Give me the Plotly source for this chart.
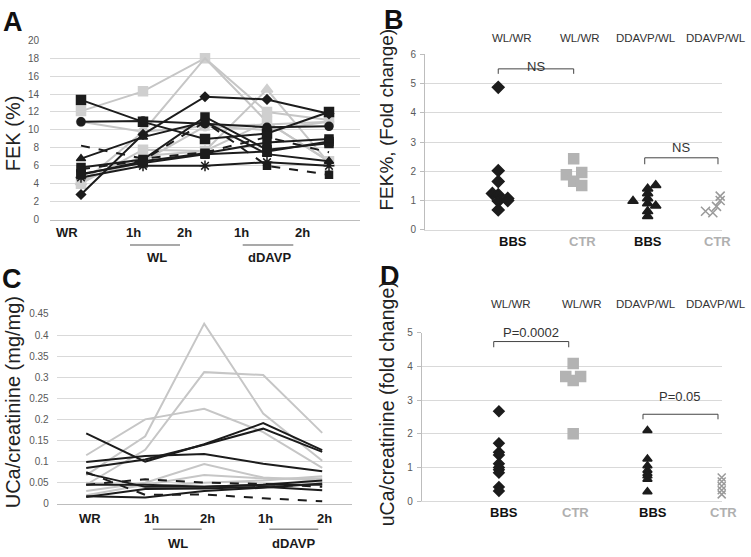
import plotly.graph_objects as go

W, H = 751, 557
FONT = "Arial, Liberation Sans, sans-serif"
BLACK = "#1c1c1c"
GREY = "#c6c6c6"
GREY_MK = "#cfcfcf"
GRID = "#d9d9d9"

# ---------------- data ----------------
time_labels = ["WR", "1h", "2h", "1h", "2h"]
time_idx = [0, 1, 2, 3, 4]

# Panel A: FEK (%) per subject
A_black_sq1 = [13.35, 10.9, 9.0, 9.6, 12.0]
A_black_dia = [2.8, 9.5, 13.7, 13.4, 11.8]
A_black_circ = [10.9, 11.0, 10.7, 10.3, 10.4]
A_black_tri = [6.8, 9.2, 10.9, 7.3, 6.5]
A_black_sq2 = [5.8, 6.7, 11.45, 7.8, 8.5]
A_black_dash1 = [8.25, 6.8, 7.5, 9.2, 7.5]
A_black_dash_sq = [5.6, 6.6, 10.9, 6.0, 5.0]
A_black_ast = [4.7, 6.0, 6.0, 6.4, 6.0]
A_black_sq3 = [5.1, 6.3, 7.3, 7.6, 8.7]
A_black_sq4 = [5.0, 6.5, 7.4, 8.6, 9.0]
A_grey_sq1 = [12.1, 14.3, 18.0, 12.0, 11.1]
A_grey_plain = [4.0, 9.8, 18.0, 10.9, 6.5]
A_grey_circ = [10.9, 9.8, 10.4, 10.6, 10.9]
A_grey_tri = [4.2, 7.1, 7.65, 14.5, 6.3]
A_grey_sq2 = [4.0, 7.8, 7.65, 10.9, 6.5]
A_grey_x = [4.5, 6.5, 10.4, 10.0, 10.9]

# Panel C: UCa/creatinine (mg/mg)
C_grey1 = [0.068, 0.16, 0.427, 0.214, 0.102]
C_grey2 = [0.045, 0.128, 0.312, 0.305, 0.168]
C_grey3 = [0.115, 0.20, 0.225, 0.17, 0.085]
C_grey4 = [0.03, 0.05, 0.094, 0.062, 0.055]
C_grey5 = [0.02, 0.045, 0.068, 0.06, 0.06]
C_grey6 = [0.05, 0.04, 0.05, 0.055, 0.065]
C_black1 = [0.167, 0.10, 0.141, 0.191, 0.127]
C_black2 = [0.085, 0.105, 0.14, 0.178, 0.123]
C_black3 = [0.099, 0.113, 0.118, 0.095, 0.077]
C_black_dash1 = [0.075, 0.021, 0.022, 0.013, 0.006]
C_black_dash2 = [0.045, 0.058, 0.05, 0.047, 0.04]
C_black4 = [0.018, 0.015, 0.03, 0.038, 0.048]
C_black5 = [0.016, 0.035, 0.036, 0.04, 0.032]
C_black6 = [0.045, 0.045, 0.04, 0.045, 0.045]
C_black7 = [0.072, 0.04, 0.04, 0.045, 0.055]

# Panel B: FEK% fold change
B_bbs_wl_x = [1, 1, 1, 0.92, 1, 1, 1.13, 1.13, 1]
B_bbs_wl_y = [4.87, 2.02, 1.65, 1.24, 1.2, 0.98, 1.07, 1.0, 0.68]
B_ctr_wl_x = [2.03, 1.93, 2.14, 2.03, 2.14]
B_ctr_wl_y = [2.43, 1.88, 1.96, 1.66, 1.51]
B_bbs_dd_x = [2.84, 3.04, 3.15, 3.04, 3.04, 3.04, 3.15, 3.04, 3.04]
B_bbs_dd_y = [0.98, 1.40, 1.52, 1.24, 1.07, 0.90, 0.82, 0.63, 0.46]
B_ctr_dd_x = [3.83, 3.93, 3.98, 4.03, 4.03]
B_ctr_dd_y = [0.63, 0.58, 0.80, 1.0, 1.15]

# Panel D: uCa/creatinine fold change
D_bbs_wl_x = [1] * 10
D_bbs_wl_y = [2.67, 1.72, 1.45, 1.37, 1.11, 1.0, 0.93, 0.84, 0.42, 0.30]
D_ctr_wl_x = [2.0, 1.9, 2.1, 2.0, 2.0]
D_ctr_wl_y = [4.09, 3.70, 3.70, 3.58, 2.0]
D_bbs_dd_x = [3] * 8
D_bbs_dd_y = [2.1, 1.25, 1.05, 0.92, 0.82, 0.75, 0.65, 0.28]
D_ctr_dd_x = [4] * 5
D_ctr_dd_y = [0.70, 0.58, 0.45, 0.32, 0.20]

ratio_headers = ["WL/WR", "WL/WR", "DDAVP/WL", "DDAVP/WL"]
group_labels = ["BBS", "CTR", "BBS", "CTR"]
B_brackets = [(1.0, 2.03, 5.5, 5.33, "NS", 5.9), (3.0, 4.0, 2.46, 2.24, "NS", 2.8)]
D_brackets = [(0.93, 1.94, 4.74, 4.57, "P=0.0002", 5.3), (2.94, 3.95, 2.58, 2.43, "P=0.05", 3.1)]
B_yrange = [0, 6]
D_yrange = [0, 5]


def px(x):
    return x / W


def py(y):
    return 1 - y / H


fig = go.Figure()

# ---------------- Panel A ----------------
A_series = [
    (A_grey_sq1, GREY, "solid", "square", 9),
    (A_grey_plain, GREY, "solid", "circle", 0),
    (A_grey_circ, GREY, "solid", "circle", 9),
    (A_grey_tri, GREY, "solid", "triangle-up", 10),
    (A_grey_sq2, GREY, "solid", "square", 9),
    (A_grey_x, GREY, "solid", "x-thin-open", 9),
    (A_black_sq1, BLACK, "solid", "square", 9),
    (A_black_dia, BLACK, "solid", "diamond", 7),
    (A_black_circ, BLACK, "solid", "circle", 8),
    (A_black_tri, BLACK, "solid", "triangle-up", 8),
    (A_black_sq2, BLACK, "solid", "square", 8),
    (A_black_dash1, BLACK, "dash", "circle", 0),
    (A_black_dash_sq, BLACK, "dash", "square", 7),
    (A_black_ast, BLACK, "solid", "asterisk-open", 9),
    (A_black_sq3, BLACK, "solid", "square", 8),
    (A_black_sq4, BLACK, "solid", "square", 8),
]
for ys, col, dash, sym, size in A_series:
    mk = dict(symbol=sym, size=size, color=col if col == BLACK else GREY_MK,
              line=dict(color=col if col == BLACK else GREY_MK, width=1.5))
    fig.add_trace(go.Scatter(x=time_idx, y=ys, mode="lines+markers" if size else "lines",
                             line=dict(color=col, width=2, dash=dash), marker=mk,
                             xaxis="x", yaxis="y", showlegend=False, cliponaxis=False))

# ---------------- Panel C ----------------
C_series = [
    (C_grey1, GREY, "solid"), (C_grey2, GREY, "solid"), (C_grey3, GREY, "solid"),
    (C_grey4, GREY, "solid"), (C_grey5, GREY, "solid"), (C_grey6, GREY, "solid"),
    (C_black1, BLACK, "solid"), (C_black2, BLACK, "solid"), (C_black3, BLACK, "solid"),
    (C_black_dash1, BLACK, "dash"), (C_black_dash2, BLACK, "dash"),
    (C_black4, BLACK, "solid"), (C_black5, BLACK, "solid"),
    (C_black6, BLACK, "solid"), (C_black7, BLACK, "solid"),
]
for ys, col, dash in C_series:
    fig.add_trace(go.Scatter(x=time_idx, y=ys, mode="lines",
                             line=dict(color=col, width=2, dash=dash),
                             xaxis="x3", yaxis="y3", showlegend=False))

# ---------------- Panel B ----------------
B_groups = [
    (B_bbs_wl_x, B_bbs_wl_y, "diamond", 9, BLACK),
    (B_ctr_wl_x, B_ctr_wl_y, "square", 10, "#b3b3b3"),
    (B_bbs_dd_x, B_bbs_dd_y, "triangle-up", 9, BLACK),
    (B_ctr_dd_x, B_ctr_dd_y, "x-thin-open", 9, "#9a9a9a"),
]
for xs, ys, sym, size, col in B_groups:
    fig.add_trace(go.Scatter(x=xs, y=ys, mode="markers",
                             marker=dict(symbol=sym, size=size, color=col,
                                         line=dict(color=col, width=1.5)),
                             xaxis="x2", yaxis="y2", showlegend=False, cliponaxis=False))

# ---------------- Panel D ----------------
D_groups = [
    (D_bbs_wl_x, D_bbs_wl_y, "diamond", 8, BLACK),
    (D_ctr_wl_x, D_ctr_wl_y, "square", 10, "#b3b3b3"),
    (D_bbs_dd_x, D_bbs_dd_y, "triangle-up", 8, BLACK),
    (D_ctr_dd_x, D_ctr_dd_y, "x-thin-open", 8, "#9a9a9a"),
]
for xs, ys, sym, size, col in D_groups:
    fig.add_trace(go.Scatter(x=xs, y=ys, mode="markers",
                             marker=dict(symbol=sym, size=size, color=col,
                                         line=dict(color=col, width=1.5)),
                             xaxis="x4", yaxis="y4", showlegend=False, cliponaxis=False))

tickfont = dict(family=FONT, size=10, color="#595959")
hidden_x = dict(showgrid=False, zeroline=False, showticklabels=False, ticks="", fixedrange=True)

fig.update_layout(
    width=W, height=H, margin=dict(l=0, r=0, t=0, b=0),
    paper_bgcolor="white", plot_bgcolor="white",
    font=dict(family=FONT),
    xaxis=dict(domain=[px(50), px(360)], range=[-0.5, 4.5], anchor="y",
               showline=True, linecolor="#bdbdbd", **hidden_x),
    yaxis=dict(domain=[py(218.3), py(35)], range=[0, 20], dtick=2, anchor="x",
               gridcolor=GRID, zeroline=False, tickfont=tickfont, ticks="",
               ticklabelstandoff=10),
    xaxis3=dict(domain=[px(56.7), px(351.7)], range=[-0.5, 4.5], anchor="y3",
                showline=True, linecolor="#bdbdbd", **hidden_x),
    yaxis3=dict(domain=[py(508.7), py(314.7)], range=[0, 0.45], dtick=0.05, anchor="x3",
                gridcolor=GRID, zeroline=False, tickfont=tickfont, ticks="",
                tickformat="~g", ticklabelstandoff=7),
    xaxis2=dict(domain=[px(425), px(722)], range=[0, 4.055], anchor="y2",
                showline=True, linecolor=GRID, **hidden_x),
    yaxis2=dict(domain=[py(228.7), py(49.3)], range=B_yrange, dtick=1, anchor="x2",
                gridcolor=GRID, zeroline=False, tickfont=tickfont, ticks="outside",
                ticklen=4, tickcolor="#bdbdbd", showline=True, linecolor="#bdbdbd",
                ticklabelstandoff=2),
    xaxis4=dict(domain=[px(421.7), px(721.7)], range=[-0.04, 4.0], anchor="y4",
                showline=True, linecolor=GRID, **hidden_x),
    yaxis4=dict(domain=[py(506), py(334)], range=D_yrange, dtick=1, anchor="x4",
                gridcolor=GRID, zeroline=False, tickfont=tickfont, ticks="outside",
                ticklen=4, tickcolor="#bdbdbd", showline=True, linecolor="#bdbdbd",
                ticklabelstandoff=2),
)

ann = []
shapes = []


def text(x, y, s, size, color="#222", bold=False, angle=0, xanchor="center"):
    ann.append(dict(x=px(x), y=py(y), xref="paper", yref="paper", text=f"<b>{s}</b>" if bold else s,
                    showarrow=False, textangle=angle, xanchor=xanchor, yanchor="middle",
                    font=dict(family=FONT, size=size, color=color)))


def hline(x0, x1, y, color="#8c8c8c", width=1.5):
    shapes.append(dict(type="line", xref="paper", yref="paper", x0=px(x0), x1=px(x1),
                       y0=py(y), y1=py(y), line=dict(color=color, width=width)))


# panel letters
for letter, (lx, ly) in zip("ABCD", [(13, 16), (394, 14), (12, 279), (390, 276)]):
    text(lx, ly, letter, 27, color="#111", bold=True)

# axis titles
text(13, 130, "FEK (%)", 20, color="#222", angle=-90)
text(13, 405, "UCa/creatinine (mg/mg)", 20, color="#222", angle=-90)
text(387, 116, "FEK%, (Fold change)", 19, color="#222", angle=-90)
text(387, 406, "uCa/creatinine (fold change)", 19.5, color="#222", angle=-90)

# Panel A category labels (offset like the original)
A_label_px = [67, 133, 184, 241, 302]
for lab, xx in zip(time_labels, A_label_px):
    text(xx, 231, lab, 13, color="#1a1a1a", bold=True)
hline(130, 180, 244.3)
hline(242.7, 293.3, 244.3)
text(156.7, 257, "WL", 13, color="#1a1a1a", bold=True)
text(269.3, 257, "dDAVP", 13, color="#1a1a1a", bold=True)

# Panel C category labels
C_label_px = [90, 151.7, 207.3, 265, 324]
for lab, xx in zip(time_labels, C_label_px):
    text(xx, 524, lab, 13, color="#1a1a1a", bold=True)
hline(152.7, 201.7, 534.7)
hline(269.3, 318.3, 534.7)
text(178.3, 549, "WL", 13, color="#1a1a1a", bold=True)
text(293.3, 549, "dDAVP", 13, color="#1a1a1a", bold=True)

# Panel B / D headers and group labels
B_head_px = [512, 580, 646, 716]
D_head_px = [511, 582, 646, 716]
B_grp_px = [513, 582, 648, 717]
D_grp_px = [504, 575, 653, 723]
grp_colors = ["#111", "#b0b0b0", "#111", "#b0b0b0"]
for i in range(4):
    text(B_head_px[i], 33, ratio_headers[i], 11.5, color="#333")
    text(D_head_px[i], 305, ratio_headers[i], 11.5, color="#333")
    text(B_grp_px[i], 241, group_labels[i], 13, color=grp_colors[i], bold=True)
    text(D_grp_px[i], 518, group_labels[i], 13, color=grp_colors[i], bold=True)

# significance brackets
for xa, ya, yr, brs in [("x2", "y2", B_yrange, B_brackets), ("x4", "y4", D_yrange, D_brackets)]:
    for x0, x1, ytop, ybot, lab, ylab in brs:
        shapes.append(dict(type="path", xref=xa, yref=ya,
                           path=f"M {x0},{ybot} L {x0},{ytop} L {x1},{ytop} L {x1},{ybot}",
                           line=dict(color="#444", width=1)))
        ann.append(dict(x=(x0 + x1) / 2, y=(ylab - yr[0]) / (yr[1] - yr[0]),
                        xref=xa, yref=f"{ya} domain", text=lab, showarrow=False,
                        font=dict(family=FONT, size=13, color="#333")))

fig.update_layout(annotations=ann, shapes=shapes)
fig.write_html("out.html", config={"displayModeBar": False},
               post_script="document.body.style.margin='0';document.body.style.overflow='hidden';")
